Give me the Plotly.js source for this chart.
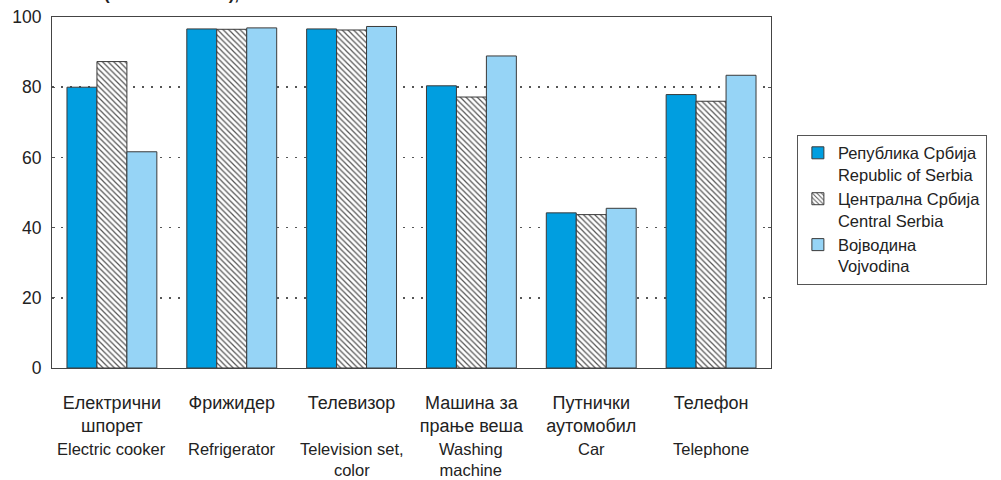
<!DOCTYPE html>
<html>
<head>
<meta charset="utf-8">
<script src="https://cdn.plot.ly/plotly-3.0.1.min.js"></script>
<style>html,body{margin:0;padding:0;background:#fff;}#chart{width:1001px;height:480px;}</style>
</head>
<body>
<div id="chart"></div>
<script>
const categories = ["Електрични<br>шпорет", "Фрижидер", "Телевизор", "Машина за<br>прање веша", "Путнички<br>аутомобил", "Телефон"];
const categoriesEn = ["Electric cooker", "Refrigerator", "Television set,<br>color", "Washing<br>machine", "Car", "Telephone"];
const serbia = [80.0, 96.6, 96.6, 80.4, 44.2, 77.9];
const central = [87.3, 96.5, 96.3, 77.2, 43.7, 76.0];
const vojvodina = [61.6, 96.9, 97.3, 88.9, 45.5, 83.4];
const seriesNames = ["Република Србија<br>Republic of Serbia", "Централна Србија<br>Central Serbia", "Војводина<br>Vojvodina"];
const yTicks = [0, 20, 40, 60, 80, 100];
const titleText = "(all households), %";

const font = "Liberation Sans, Arial, sans-serif";
const outline = {color: "#3a3a3a", width: 1};

const traces = [
  {type: "bar", x: categories, y: serbia, name: seriesNames[0],
   marker: {color: "#009ee0", line: outline}},
  {type: "bar", x: categories, y: central, name: seriesNames[1],
   marker: {color: "#ffffff", line: outline,
            pattern: {shape: "\\", fgcolor: "#555555", bgcolor: "#ffffff", size: 4, solidity: 0.3}}},
  {type: "bar", x: categories, y: vojvodina, name: seriesNames[2],
   marker: {color: "#96d4f6", line: outline}}
];

const annotations = categoriesEn.map((t, i) => ({
  x: categories[i], xref: "x", y: -0.2, yref: "paper",
  yanchor: "top", xanchor: "center", showarrow: false, text: t,
  font: {family: font, size: 16.5, color: "#222"}
}));
annotations.push({
  x: 0.18, xref: "paper", y: 1.032, yref: "paper", yanchor: "bottom", xanchor: "center",
  showarrow: false, text: "<b>" + titleText + "</b>", font: {family: font, size: 17, color: "#222"}
});

const layout = {
  width: 1001, height: 480,
  margin: {l: 52, r: 230, t: 17, b: 112},
  paper_bgcolor: "#fff", plot_bgcolor: "#fff",
  font: {family: font, size: 16, color: "#222"},
  barmode: "group", bargap: 0.25, bargroupgap: 0,
  showlegend: true,
  legend: {x: 1.036, xanchor: "left", y: 0.665, yanchor: "top",
           bordercolor: "#555", borderwidth: 1, bgcolor: "#fff",
           font: {family: font, size: 16.5, color: "#222"}, valign: "top",
           tracegroupgap: 0, itemwidth: 30},
  xaxis: {showline: true, mirror: true, linecolor: "#444", linewidth: 1,
          ticks: "", ticklabelstandoff: 18,
          tickfont: {family: font, size: 18, color: "#222"}, fixedrange: true},
  yaxis: {range: [0, 100], tickvals: yTicks, ticktext: yTicks.map(String),
          showline: true, mirror: "ticks", linecolor: "#444", linewidth: 1,
          showgrid: true, gridcolor: "#555", gridwidth: 1.5, griddash: "2px,7px",
          zeroline: false, ticks: "inside", ticklen: 3, tickcolor: "#555",
          ticklabelstandoff: 6,
          tickfont: {family: font, size: 17.5, color: "#222"}, fixedrange: true},
  annotations: annotations
};

Plotly.newPlot("chart", traces, layout, {displayModeBar: false, staticPlot: true});
</script>
</body>
</html>
